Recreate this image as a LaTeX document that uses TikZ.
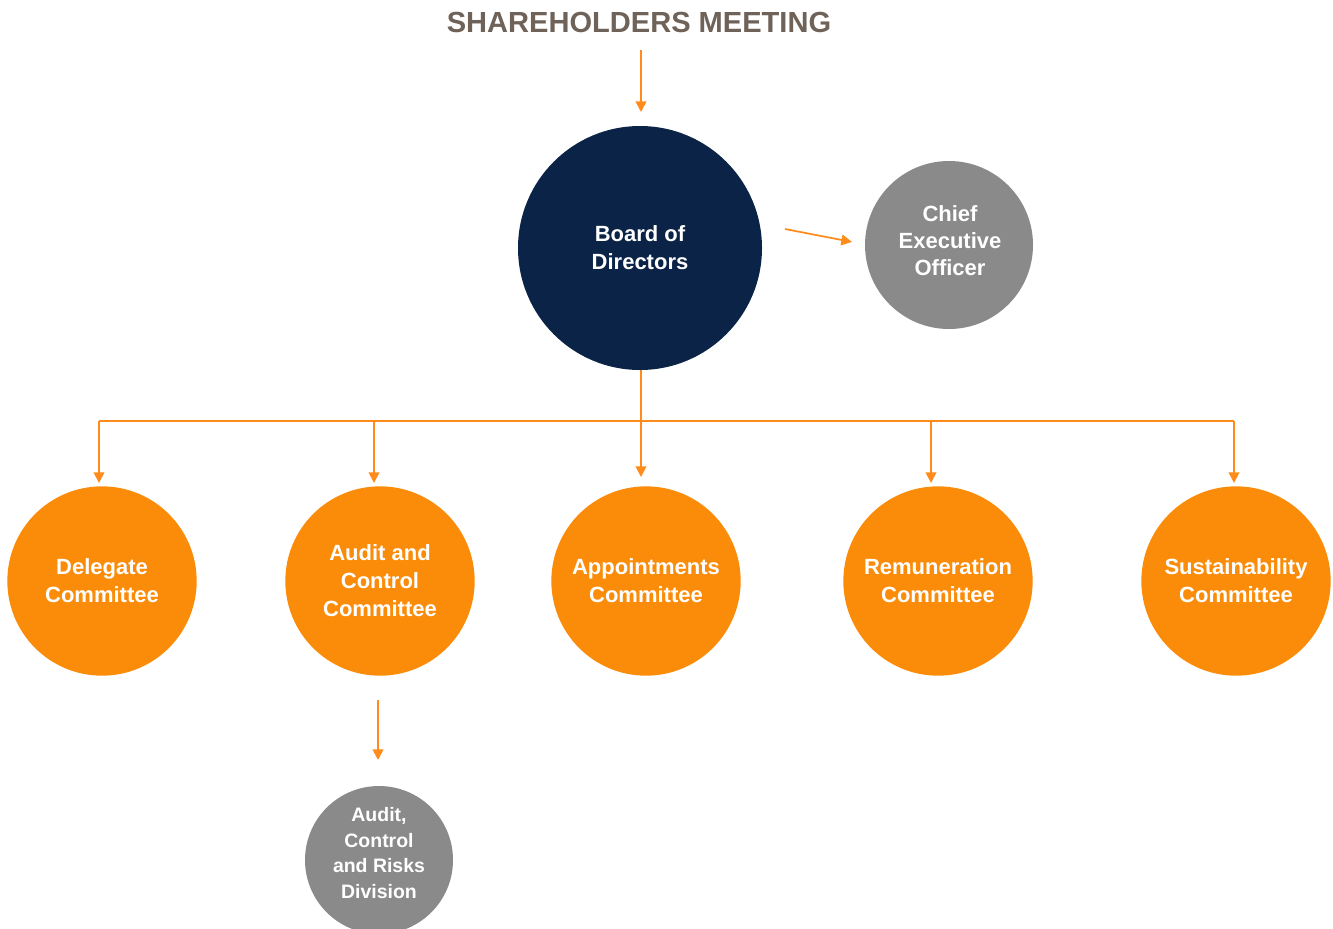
\documentclass[tikz,border=0pt]{standalone}
\usepackage{fontspec}
\setmainfont{Liberation Sans}
\usetikzlibrary{arrows.meta}
\definecolor{navy}{HTML}{0A2346}
\definecolor{orng}{HTML}{FB8C0A}
\definecolor{arr}{HTML}{FF8C1A}
\definecolor{grayc}{HTML}{8A8A8A}
\definecolor{titlec}{HTML}{6E6259}
\begin{document}
\begin{tikzpicture}[x=0.75pt,y=-0.75pt,
  circ/.style={circle,inner sep=0pt,text=white,font=\bfseries\fontsize{16.5}{21}\selectfont,align=center},
  conn/.style={draw=arr,line width=1.3pt},
  arrw/.style={conn,-{Triangle[length=8pt,width=8pt]}}]
\useasboundingbox (0,0) rectangle (1333,928);
\begin{scope}
\clip (0,0) rectangle (1333,928);
\node[font=\bfseries\fontsize{21.8}{24}\selectfont,text=titlec] (title) at (639,22) {SHAREHOLDERS MEETING};
\node[circ,fill=navy,minimum size=183pt] (board) at (640,248) {Board of\\Directors};
\node[circ,fill=grayc,minimum size=126pt] (ceo) at (949,245) {};
\node[text=white,font=\bfseries\fontsize{16.5}{20.2}\selectfont,align=center] (ceot) at (950,241) {Chief\\Executive\\Officer};
\node[circ,fill=orng,minimum size=142pt] (del) at (102,581) {Delegate\\Committee};
\node[circ,fill=orng,minimum size=142pt] (aud) at (380,581) {Audit and\\Control\\Committee};
\node[circ,fill=orng,minimum size=142pt] (app) at (646,581) {Appointments\\Committee};
\node[circ,fill=orng,minimum size=142pt] (rem) at (938,581) {Remuneration\\Committee};
\node[circ,fill=orng,minimum size=142pt] (sus) at (1236,581) {Sustainability\\Committee};
\node[circ,fill=grayc,minimum size=111pt] (div) at (379,860) {};
\node[text=white,font=\bfseries\fontsize{14.6}{19.2}\selectfont,align=center] (divt) at (379,853) {Audit,\\Control\\and Risks\\Division};
\end{scope}
\coordinate (t1) at (641,50);
\coordinate (t2) at (641,112);
\draw[arrw] (t1) -- (t2);
\coordinate (c1) at (785,229);
\coordinate (c2) at (852,242);
\draw[arrw] (c1) -- (c2);
\coordinate (hl) at (99,421);
\coordinate (hr) at (1234,421);
\coordinate (bs) at (641,370);
\draw[conn] (hl) -- (hr);
\draw[arrw] (bs) -- (641,477);
\draw[arrw] (hl) -- (99,483);
\draw[arrw] (374,421) -- (374,483);
\draw[arrw] (931,421) -- (931,483);
\draw[arrw] (hr) -- (1234,483);
\coordinate (d1) at (378,700);
\coordinate (d2) at (378,760);
\draw[arrw] (d1) -- (d2);
\end{tikzpicture}
\end{document}
